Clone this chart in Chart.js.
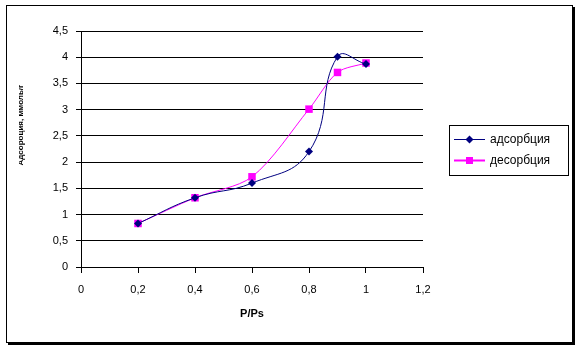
<!DOCTYPE html>
<html>
<head>
<meta charset="utf-8">
<title>Изотерма</title>
<script src="https://cdn.jsdelivr.net/npm/chart.js@4"></script>
<style>
  html, body { margin: 0; padding: 0; background: #fff; }
  #wrap { width: 581px; height: 350px; }
</style>
</head>
<body>
<div id="wrap"><canvas id="chart" width="581" height="350"></canvas></div>
<script>
const pressure = [0.2, 0.4, 0.6, 0.8, 0.9, 1.0];
const adsorption = [0.83, 1.32, 1.60, 2.20, 4.01, 3.87];
const desorption = [0.83, 1.32, 1.72, 3.01, 3.71, 3.89];
const xTickLabels = ['0', '0,2', '0,4', '0,6', '0,8', '1', '1,2'];
const yTickLabels = ['0', '0,5', '1', '1,5', '2', '2,5', '3', '3,5', '4', '4,5'];
const seriesNames = ['адсорбция', 'десорбция'];
const yTitle = 'Адсорбция, ммоль/г';
const xTitle = 'P/Ps';

const FONT = "'Liberation Sans', Arial, sans-serif";
Chart.defaults.font.family = FONT;
Chart.defaults.font.size = 11;
Chart.defaults.color = '#000';

function toPoints(ys) {
  return pressure.map((x, i) => ({ x, y: ys[i] }));
}

// frame around the whole chart, with a heavier right/bottom edge
const framePlugin = {
  id: 'frame',
  afterDraw(chart) {
    const ctx = chart.ctx;
    ctx.save();
    ctx.strokeStyle = '#000';
    ctx.lineWidth = 1;
    ctx.strokeRect(6.5, 5.5, 566, 337);
    ctx.fillStyle = '#000';
    ctx.fillRect(572, 7, 3, 338);
    ctx.fillRect(8, 342, 567, 3);
    ctx.restore();
  },
};

// vertical axis title, cut off at its top edge
const yTitlePlugin = {
  id: 'yTitle',
  afterDraw(chart) {
    const ctx = chart.ctx;
    ctx.save();
    ctx.beginPath();
    ctx.rect(19, 40, 20, 220);
    ctx.clip();
    ctx.translate(23, 125);
    ctx.rotate(-Math.PI / 2);
    ctx.font = 'bold 8px ' + FONT;
    ctx.fillStyle = '#000';
    ctx.textAlign = 'center';
    ctx.textBaseline = 'alphabetic';
    ctx.fillText(yTitle, 0, 0);
    ctx.restore();
  },
};

// boxed legend to the right of the plot
const legendPlugin = {
  id: 'boxLegend',
  afterDraw(chart) {
    const ctx = chart.ctx;
    ctx.save();
    ctx.strokeStyle = '#000';
    ctx.lineWidth = 1;
    ctx.strokeRect(449.5, 125.5, 119, 50);
    chart.data.datasets.forEach((ds, i) => {
      const y = 139 + i * 21;
      ctx.strokeStyle = ds.borderColor;
      ctx.lineWidth = i === 1 ? 2 : 1;
      ctx.beginPath();
      ctx.moveTo(454, y + 0.5);
      ctx.lineTo(485, y + 0.5);
      ctx.stroke();
      ctx.fillStyle = ds.pointBackgroundColor;
      ctx.beginPath();
      if (ds.pointStyle === 'rectRot') {
        ctx.moveTo(469.5 - 4, y + 0.5);
        ctx.lineTo(469.5, y - 3.5);
        ctx.lineTo(469.5 + 4, y + 0.5);
        ctx.lineTo(469.5, y + 4.5);
      } else {
        ctx.rect(466, y - 3, 7, 7);
      }
      ctx.fill();
      ctx.fillStyle = '#000';
      ctx.font = '12px ' + FONT;
      ctx.textBaseline = 'middle';
      ctx.textAlign = 'left';
      ctx.fillText(ds.label, 490, y + 1);
    });
    ctx.restore();
  },
};

new Chart(document.getElementById('chart'), {
  type: 'scatter',
  data: {
    datasets: [
      {
        label: seriesNames[0],
        data: toPoints(adsorption),
        showLine: true,
        borderColor: '#000080',
        backgroundColor: '#000080',
        pointBackgroundColor: '#000080',
        pointBorderColor: '#000080',
        pointStyle: 'rectRot',
        pointRadius: 4,
        pointBorderWidth: 0,
        borderWidth: 1,
        tension: 0.45,
      },
      {
        label: seriesNames[1],
        data: toPoints(desorption),
        showLine: true,
        borderColor: '#ff00ff',
        backgroundColor: '#ff00ff',
        pointBackgroundColor: '#ff00ff',
        pointBorderColor: '#ff00ff',
        pointStyle: 'rect',
        pointRadius: 5.3,
        pointBorderWidth: 0,
        borderWidth: 1,
        tension: 0.3,
      },
    ],
  },
  options: {
    responsive: false,
    animation: false,
    layout: { padding: { left: 0, top: 31, right: 158, bottom: 0 } },
    plugins: {
      legend: { display: false },
      tooltip: { enabled: false },
    },
    scales: {
      x: {
        type: 'linear',
        min: 0,
        max: 1.2,
        afterFit(scale) { scale.height = 83; },
        ticks: {
          stepSize: 0.2,
          padding: 10,
          maxRotation: 0,
          callback: (value, index) => xTickLabels[index],
        },
        grid: {
          drawOnChartArea: false,
          drawTicks: true,
          tickLength: 6,
          tickColor: '#000',
        },
        border: { display: true, color: '#000', width: 1 },
        title: {
          display: true,
          text: xTitle,
          font: { size: 11, weight: 'bold', family: FONT },
          padding: { top: 29, bottom: 29 },
        },
      },
      y: {
        min: 0,
        max: 4.5,
        afterFit(scale) { scale.width = 81; },
        ticks: {
          stepSize: 0.5,
          padding: 8,
          callback: (value, index) => yTickLabels[index],
        },
        grid: {
          color: '#000',
          lineWidth: 1,
          drawTicks: true,
          tickLength: 5,
          tickColor: '#000',
        },
        border: { display: true, color: '#000', width: 1 },
      },
    },
  },
  plugins: [framePlugin, yTitlePlugin, legendPlugin],
});
</script>
</body>
</html>
